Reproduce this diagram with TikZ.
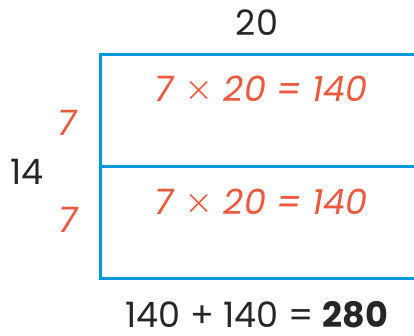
\documentclass[tikz,border=0pt]{standalone}
\usepackage{fontspec}
\setmainfont{Poppins}
\newfontfamily\timesfont{DejaVu Sans ExtraLight}
\usepackage{xcolor}
\usepackage{tikz}

\definecolor{areablue}{RGB}{0,150,220}
\definecolor{partorange}{RGB}{238,88,60}

\newcommand{\tms}{{\upshape\timesfont ×}}

\tikzset{
	arealine/.style={draw=areablue, line width=3pt},
	dimlabel/.style={font=\fontsize{35}{40}\selectfont, text=black!85, inner sep=1pt},
	partlabel/.style={font=\fontsize{35}{40}\selectfont\itshape, text=partorange, inner sep=1pt},
}

\begin{document}
\begin{tikzpicture}[x=1pt,y=1pt]
			\useasboundingbox (0,0) rectangle (414,336);
			
			\coordinate (tl) at (100,281);
			\coordinate (ml) at (100,169);
			\coordinate (bl) at (100,57.5);
			\coordinate (tr) at (414,281);
			\coordinate (mr) at (414,169);
			\coordinate (br) at (414,57.5);
			
			\draw[arealine] (tr) -- (tl) -- (bl) -- (br);
			\draw[arealine] (ml) -- (mr);
			
			\node[dimlabel] (w) at (257,313) {20};
			\node[dimlabel] (h) at (27,164) {14};
			\node[partlabel] (h1) at (67,213) {7};
			\node[partlabel] (h2) at (68,116) {7};
			
			\node[partlabel] (p1) at (261,247) {7 \tms{} 20 = 140};
			\node[partlabel] (p2) at (261,134) {7 \tms{} 20 = 140};
			
			\node[dimlabel] (sum) at (257,21) {140 + 140 = \textbf{280}};
		\end{tikzpicture}
\end{document}
